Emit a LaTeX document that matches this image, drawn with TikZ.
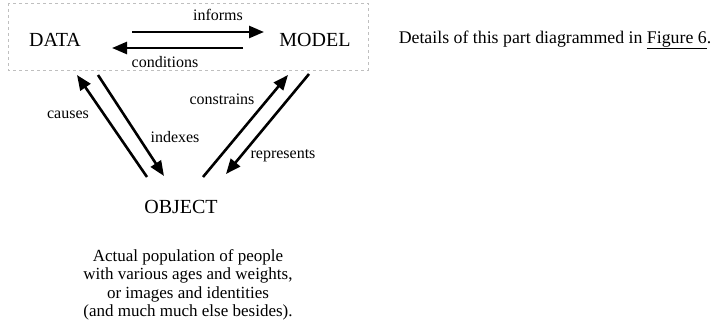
\documentclass[tikz,border=0pt]{standalone}
\usepackage{fontspec}
\setmainfont{Liberation Serif}
\usetikzlibrary{arrows.meta}
\begin{document}
\begin{tikzpicture}[x=1pt,y=-1pt,
  big/.style={font=\fontsize{20}{22}\selectfont, inner sep=0pt},
  lab/.style={font=\fontsize{16}{18}\selectfont, inner sep=0pt},
  conn/.style={line width=2.6pt, -{Triangle[length=15pt,width=12pt]}},
  frame/.style={draw=black!25, dashed, line width=0.8pt}]
\useasboundingbox (0,0) rectangle (714,329);
\draw[frame] (8,3) rectangle (368,70);
\node[big] (data) at (55,40) {DATA};
\node[big] (model) at (315,40) {MODEL};
\node[big] (object) at (181,207) {OBJECT};
\node[font=\fontsize{17}{18.5}\selectfont, align=center, inner sep=0pt] (desc) at (188,285)
 {Actual population of people\\with various ages and weights,\\or images and identities\\(and much much else besides).};
\node[font=\fontsize{17.8}{20}\selectfont, inner sep=0pt] (details) at (555,40) {Details of this part diagrammed in \underline{Figure 6}.};
% endpoints
\coordinate (i1) at (132,32); \coordinate (i2) at (264,32);
\coordinate (c1) at (243,48); \coordinate (c2) at (112,48);
\coordinate (ca1) at (147,177); \coordinate (ca2) at (77,75);
\coordinate (ix1) at (98,75); \coordinate (ix2) at (164,176);
\coordinate (co1) at (203,177); \coordinate (co2) at (288,75);
\coordinate (re1) at (309,74); \coordinate (re2) at (226,174);
\draw[conn] (i1) -- (i2);
\draw[conn] (c1) -- (c2);
\draw[conn] (ca1) -- (ca2);
\draw[conn] (ix1) -- (ix2);
\draw[conn] (co1) -- (co2);
\draw[conn] (re1) -- (re2);
\node[lab] (linf) at (218,15) {informs};
\node[lab] (lcond) at (165,62) {conditions};
\node[lab] (lcau) at (68,115) {causes};
\node[lab] (lidx) at (175,137) {indexes};
\node[lab] (lcon) at (222,99) {constrains};
\node[lab] (lrep) at (283,156) {represents};
\end{tikzpicture}
\end{document}
